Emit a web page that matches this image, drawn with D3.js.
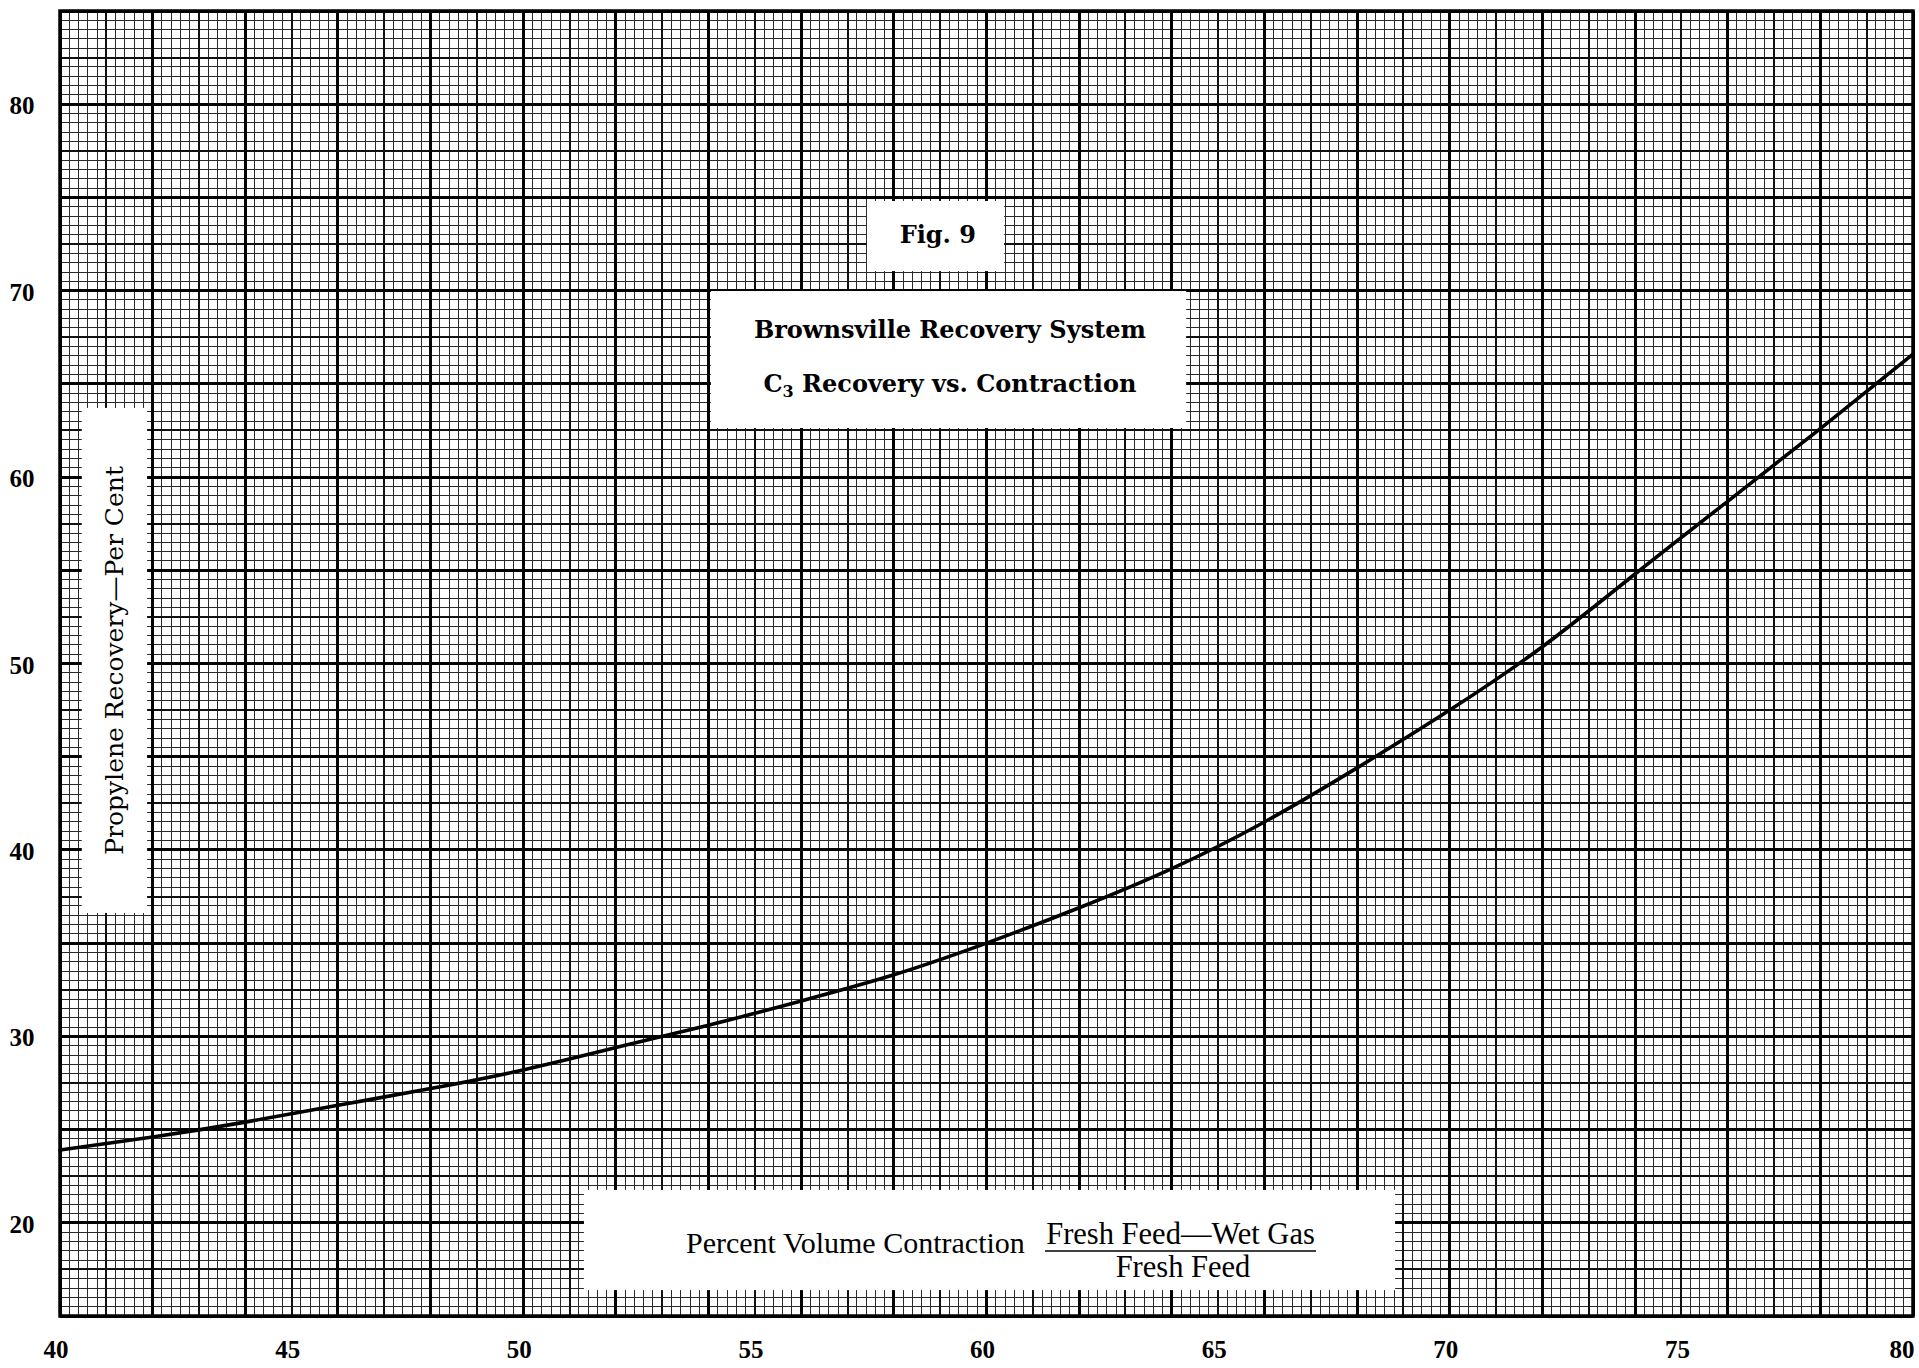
<!DOCTYPE html>
<html><head><meta charset="utf-8">
<script src="https://cdn.jsdelivr.net/npm/d3@7"></script>
<style>html,body{margin:0;padding:0;background:#fff;} svg{display:block;}</style>
</head><body>
<svg id="chart" width="1919" height="1368"></svg>
<script>
// ---- data ----
const contraction = [40,42,44,46,48,50,52,54,56,58,60,62,64,66,68,70,72,74,76,78,80];
const recovery    = [23.9,24.6,25.4,26.3,27.2,28.2,29.4,30.6,31.9,33.3,35.0,36.9,39.0,41.5,44.4,47.5,50.9,54.8,58.7,62.6,66.6];
const xTickLabels = [40,45,50,55,60,65,70,75,80];
const yTickLabels = [20,30,40,50,60,70,80];
const xDomain = [40,80];
const yDomain = [15,85];
const figLabel = "Fig. 9";
const titleLine1 = "Brownsville Recovery System";
const titleLine2 = ["C", "3", " Recovery vs. Contraction"];
const yAxisTitle = "Propylene Recovery\u2014Per Cent";
const xAxisTitle = "Percent Volume Contraction";
const xFracNum = "Fresh Feed\u2014Wet Gas";
const xFracDen = "Fresh Feed";

// ---- layout ----
const svg = d3.select("#chart");
const L = 60, R = 1913, T = 11, B = 1316;
const x = d3.scaleLinear().domain(xDomain).range([L, R]);
const y = d3.scaleLinear().domain(yDomain).range([B, T]);

svg.append("rect").attr("width",1919).attr("height",1368).attr("fill","#fff");

// ---- graph-paper grid ----
const g = svg.append("g").attr("shape-rendering","crispEdges");
const nx = Math.round((xDomain[1]-xDomain[0])/0.2);
const ny = Math.round((yDomain[1]-yDomain[0])/0.5);
const xs = d3.range(nx+1).map(i => ({v: xDomain[0] + i*0.2, k: i%10===0 ? 2 : (i%5===0 ? 1 : 0)}));
const ys = d3.range(ny+1).map(i => ({v: yDomain[0] + i*0.5, k: i%10===0 ? 2 : (i%5===0 ? 1 : 0)}));
const widths = [1, 2, 3];
const cols = ["#2a2a2a", "#111", "#000"];
[0,1,2].forEach(k => {
  g.selectAll(null).data(xs.filter(d => d.k===k)).enter().append("line")
    .attr("x1", d => x(d.v)).attr("x2", d => x(d.v)).attr("y1", T).attr("y2", B)
    .attr("stroke", cols[k]).attr("stroke-width", widths[k]);
  g.selectAll(null).data(ys.filter(d => d.k===k)).enter().append("line")
    .attr("y1", d => y(d.v)).attr("y2", d => y(d.v)).attr("x1", L).attr("x2", R)
    .attr("stroke", cols[k]).attr("stroke-width", widths[k]);
});

// ---- white label boxes (positions in data units) ----
function box(x0,x1,y0,y1){
  svg.append("rect").attr("x", x(x0)).attr("y", y(y0))
    .attr("width", x(x1)-x(x0)).attr("height", y(y1)-y(y0)).attr("fill","#fff");
}
box(57.42, 60.38, 74.81, 71.05);   // Fig. 9
box(54.05, 64.31, 69.98, 62.63);   // title
box(40.47, 41.88, 63.71, 36.62);   // y-axis title
box(51.31, 68.82, 21.76, 16.39);   // x-axis title

// ---- curve ----
const pts = contraction.map((c,i) => [c, recovery[i]]);
svg.append("path").datum(pts)
  .attr("d", d3.line().x(d => x(d[0])).y(d => y(d[1])).curve(d3.curveNatural))
  .attr("fill","none").attr("stroke","#000").attr("stroke-width",3.6)
  .attr("stroke-linecap","round");

// ---- frame ----
svg.append("rect").attr("x",L).attr("y",T).attr("width",R-L).attr("height",B-T)
  .attr("fill","none").attr("stroke","#000").attr("stroke-width",3.5);

// ---- tick labels ----
const tickFont = "'Liberation Serif', 'Times New Roman', serif";
svg.selectAll(null).data(xTickLabels).enter().append("text")
  .attr("x", d => Math.min(x(d) - 4, 1902)).attr("y", 1358)
  .attr("text-anchor","middle").attr("font-family", tickFont)
  .attr("font-weight","bold").attr("font-size",25).attr("fill","#000")
  .text(d => d);
svg.selectAll(null).data(yTickLabels).enter().append("text")
  .attr("x", 22).attr("y", d => y(d) + 10)
  .attr("text-anchor","middle").attr("font-family", tickFont)
  .attr("font-weight","bold").attr("font-size",25).attr("fill","#000")
  .text(d => d);

// ---- title texts ----
const boldFont = "'DejaVu Serif', serif";
svg.append("text").attr("x", x(58.95)).attr("y", y(72.56))
  .attr("text-anchor","middle").attr("font-family", boldFont).attr("font-weight","bold")
  .attr("font-size",24).text(figLabel);
svg.append("text").attr("x", x(59.21)).attr("y", y(67.46))
  .attr("text-anchor","middle").attr("font-family", boldFont).attr("font-weight","bold")
  .attr("font-size",24).text(titleLine1);
const t2 = svg.append("text").attr("x", x(59.21)).attr("y", y(64.56))
  .attr("text-anchor","middle").attr("font-family", boldFont).attr("font-weight","bold")
  .attr("font-size",24);
t2.append("tspan").text(titleLine2[0]);
t2.append("tspan").attr("font-size",16).attr("dy",5).text(titleLine2[1]);
t2.append("tspan").attr("dy",-5).text(titleLine2[2]);

// ---- y axis title (rotated) ----
const ycx = x(41.17), ycy = (y(63.71)+y(36.62))/2;
svg.append("text").attr("transform", `translate(${ycx+9},${ycy}) rotate(-90)`)
  .attr("text-anchor","middle").attr("font-family", boldFont)
  .attr("font-size",25).text(yAxisTitle);

// ---- x axis title with fraction ----
const capFont = "'Liberation Serif', 'Times New Roman', serif";
svg.append("text").attr("x", x(57.17)).attr("y", 1253)
  .attr("text-anchor","middle").attr("font-family", capFont).attr("font-size",30)
  .text(xAxisTitle);
svg.append("text").attr("x", (1045+1316)/2).attr("y", 1244)
  .attr("text-anchor","middle").attr("font-family", capFont).attr("font-size",30.5)
  .text(xFracNum);
svg.append("line").attr("x1", 1045).attr("x2", 1316).attr("y1",1251).attr("y2",1251)
  .attr("stroke","#000").attr("stroke-width",1.5);
svg.append("text").attr("x", (1116+1250)/2).attr("y", 1277)
  .attr("text-anchor","middle").attr("font-family", capFont).attr("font-size",30.5)
  .text(xFracDen);
</script>
</body></html>
